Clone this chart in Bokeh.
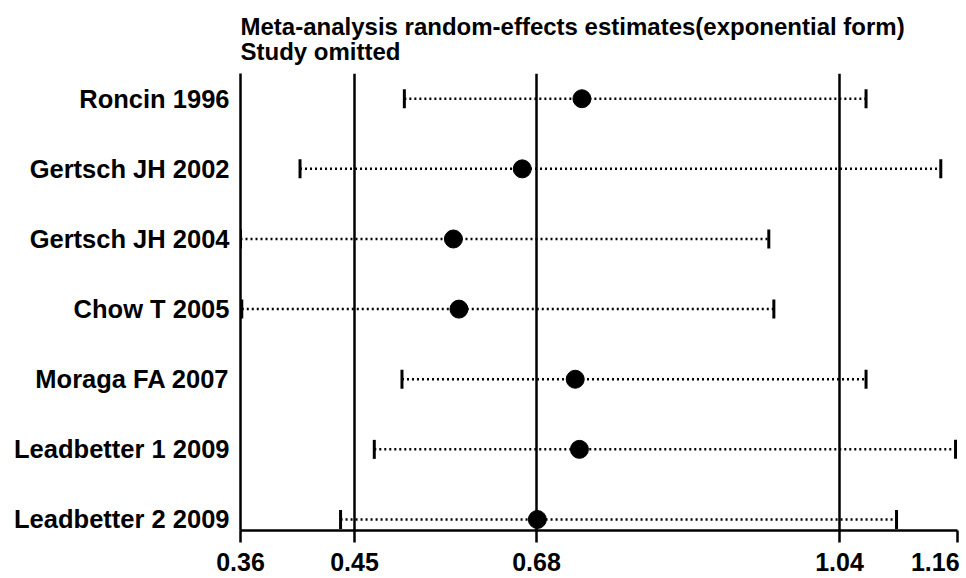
import numpy as np
from bokeh.plotting import figure
from bokeh.models import ColumnDataSource, Range1d, FixedTicker, LinearInterpolator
from bokeh.transform import transform
from bokeh.embed import file_html
from bokeh.resources import INLINE

# ---- data ----
studies = ["Roncin 1996", "Gertsch JH 2002", "Gertsch JH 2004", "Chow T 2005",
           "Moraga FA 2007", "Leadbetter 1 2009", "Leadbetter 2 2009"]
estimate = [0.734, 0.662, 0.575, 0.582, 0.726, 0.731, 0.681]
lower = [0.513, 0.407, 0.360, 0.361, 0.510, 0.475, 0.439]
upper = [1.067, 1.143, 0.956, 0.962, 1.067, 1.158, 1.098]
# overall estimate and its CI bounds (vertical reference lines)
overall = [0.45, 0.68, 1.04]
tick_values = [0.36, 0.45, 0.68, 1.04, 1.16]
tick_labels = ["0.36", "0.45", "0.68", "1.04", "1.16"]

# ---- layout: axis positions of the labelled ticks (non-uniform axis) ----
TICK_POS = [0, 114, 296, 599, 717]
Y_START, Y_END = -0.157, 6.36
FONT = "Liberation Sans"
NBSP = "\u00a0"

interp = LinearInterpolator(x=tick_values, y=TICK_POS, clip=False)

n = len(studies)
rows = list(range(n - 1, -1, -1))
src = ColumnDataSource(dict(study=studies, est=estimate, lo=lower, hi=upper, row=rows))
ref = ColumnDataSource(dict(x=overall, y0=[Y_START] * len(overall), y1=[Y_END] * len(overall)))

p = figure(width=966, height=578, output_backend="svg", toolbar_location=None,
           x_range=Range1d(TICK_POS[0], TICK_POS[-1]), y_range=Range1d(Y_START, Y_END),
           min_border_left=240, min_border_right=9, min_border_top=73, min_border_bottom=41)

p.title.text = "Meta-analysis random-effects estimates(exponential form)\nStudy omitted"
p.title.text_font = FONT
p.title.text_font_style = "bold"
p.title.text_font_size = "24px"
p.title.text_color = "black"
p.title.text_line_height = 0.95
p.title.align = "left"
p.title.standoff = 16

p.outline_line_color = None
p.xgrid.visible = False
p.ygrid.visible = False
p.background_fill_color = "white"

# vertical reference lines
p.segment(x0=transform("x", interp), x1=transform("x", interp), y0="y0", y1="y1",
          source=ref, line_color="black", line_width=2.5)

# confidence intervals (dotted)
p.segment(x0=transform("lo", interp), x1=transform("hi", interp), y0="row", y1="row",
          source=src, line_color="black", line_width=2.5, line_dash="2 3")
# caps
for col in ("lo", "hi"):
    p.scatter(x=transform(col, interp), y="row", source=src, marker="dash",
              angle=np.pi / 2, size=19, line_color="black", line_width=3)
# point estimates
p.scatter(x=transform("est", interp), y="row", source=src, size=18,
          fill_color="black", line_color="black")

# x axis (last label gets a small pad; Bokeh keeps it inside the canvas edge)
labels_fmt = list(tick_labels)
labels_fmt[-1] = labels_fmt[-1] + NBSP
xa = p.xaxis[0]
xa.ticker = FixedTicker(ticks=TICK_POS)
xa.major_label_overrides = {pos: lab for pos, lab in zip(TICK_POS, labels_fmt)}
xa.axis_line_width = 2.5
xa.axis_line_color = "black"
xa.major_tick_line_width = 2.5
xa.major_tick_line_color = "black"
xa.major_tick_out = 12
xa.major_tick_in = 0
xa.minor_tick_line_color = None
xa.major_label_standoff = 5
xa.major_label_text_font = FONT
xa.major_label_text_font_style = "bold"
xa.major_label_text_font_size = "25px"
xa.major_label_text_color = "black"

# y axis
ya = p.yaxis[0]
ya.ticker = FixedTicker(ticks=rows)
ya.major_label_overrides = {r: s for r, s in zip(rows, studies)}
ya.axis_line_width = 2.5
ya.axis_line_color = "black"
ya.major_tick_line_color = None
ya.major_tick_out = 0
ya.major_tick_in = 0
ya.minor_tick_line_color = None
ya.major_label_standoff = 11
ya.major_label_text_font = FONT
ya.major_label_text_font_style = "bold"
ya.major_label_text_font_size = "25.5px"
ya.major_label_text_color = "black"

open("out.html", "w").write(file_html(p, INLINE))
